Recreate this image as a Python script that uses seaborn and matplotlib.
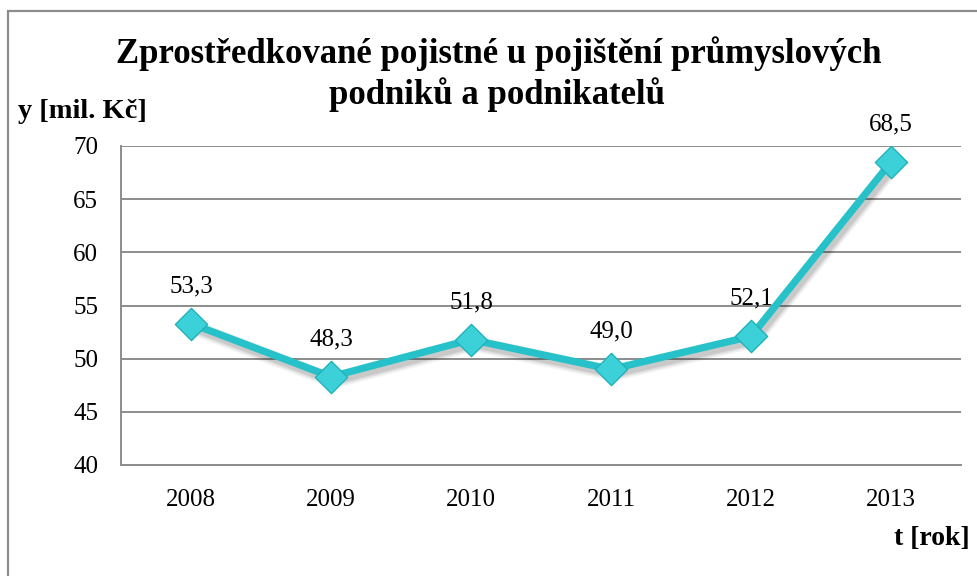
import matplotlib
matplotlib.use("Agg")
import matplotlib.pyplot as plt
import matplotlib.patheffects as pe
from matplotlib.patches import Rectangle
import seaborn as sns
import pandas as pd

# ---- data ----
years = ["2008", "2009", "2010", "2011", "2012", "2013"]
values = [53.3, 48.3, 51.8, 49.0, 52.1, 68.5]
value_labels = ["53,3", "48,3", "51,8", "49,0", "52,1", "68,5"]
y_ticks = [40, 45, 50, 55, 60, 65, 70]
title_line1 = "Zprostředkované pojistné u pojištění průmyslových"
title_line2 = "podniků a podnikatelů"
y_label = "y [mil. Kč]"
x_label = "t [rok]"

df = pd.DataFrame({"rok": years, "hodnota": values})

sns.set_theme(style="white")
plt.rcParams["font.family"] = ["Liberation Serif", "DejaVu Serif"]

W, H = 977, 576
fig = plt.figure(figsize=(W / 100, H / 100), dpi=100)
fig.patch.set_facecolor("white")

# outer chart frame (extends beyond right/bottom edges)
fig.patches.append(Rectangle((8 / W, -0.2), 1.2, 1.2 - 11 / H,
                             transform=fig.transFigure, fill=False,
                             edgecolor="#8c8c8c", linewidth=1.6, zorder=0))

ax = fig.add_axes([121 / W, 1 - 465 / H, (961 - 121) / W, (465 - 146) / H])
ax.set_facecolor("white")

grid_col = "#8c8c8c"
line_col = "#26C1C9"

# soft shadow built from stacked translucent line shadows
shadow = [pe.SimpleLineShadow(offset=(2.0, -3.0), alpha=a, shadow_color="black", linewidth=lw)
          for a, lw in [(0.05, 11), (0.07, 8.5), (0.10, 6)]]

sns.lineplot(data=df, x="rok", y="hodnota", ax=ax, color=line_col,
             linewidth=5.2, zorder=4, path_effects=shadow + [pe.Normal()])
sns.scatterplot(data=df, x="rok", y="hodnota", ax=ax, marker="D", s=270,
                color="#3CD0D8", edgecolor="#22B2BA", linewidth=1.0, zorder=5,
                legend=False)

ax.set_xlim(-0.5, len(years) - 0.5)
ax.set_ylim(40, 70)
ax.set_yticks(y_ticks)
ax.set_yticklabels([str(t) for t in y_ticks])
ax.yaxis.grid(True, color=grid_col, linewidth=1.4)
ax.xaxis.grid(False)
ax.set_axisbelow(True)

ax.set_xticks(range(len(years)))
ax.set_xticklabels(years)
ax.set_xticks([i - 0.5 for i in range(len(years) + 1)], minor=True)
ax.tick_params(axis="x", which="major", length=0, pad=17, labelsize=18, colors="black")
ax.tick_params(axis="x", which="minor", length=8, width=1.4, color=grid_col, direction="out")
ax.tick_params(axis="y", which="major", length=0, pad=16.5, labelsize=18, colors="black")
for lab in ax.get_xticklabels() + ax.get_yticklabels():
    lab.set_color("black")

for s in ["top", "right"]:
    ax.spines[s].set_visible(False)
for s in ["left", "bottom"]:
    ax.spines[s].set_visible(True)
    ax.spines[s].set_color(grid_col)
    ax.spines[s].set_linewidth(1.4)

ax.set_xlabel("")
ax.set_ylabel("")

for i, (v, lab) in enumerate(zip(values, value_labels)):
    ax.annotate(lab, (i, v), xytext=(0, 27), textcoords="offset points",
                ha="center", va="center", fontsize=18, color="black", zorder=6)

fig.text(499 / W, 1 - 63 / H, title_line1, ha="center", va="baseline",
         fontsize=25, fontweight="bold", color="black")
fig.text(497 / W, 1 - 104 / H, title_line2, ha="center", va="baseline",
         fontsize=25, fontweight="bold", color="black")
fig.text(18 / W, 1 - 118 / H, y_label, ha="left", va="baseline",
         fontsize=20.5, fontweight="bold", color="black")
fig.text(970 / W, 1 - 545 / H, x_label, ha="right", va="baseline",
         fontsize=20, fontweight="bold", color="black")

fig.savefig("out.png", dpi=100, facecolor="white")
